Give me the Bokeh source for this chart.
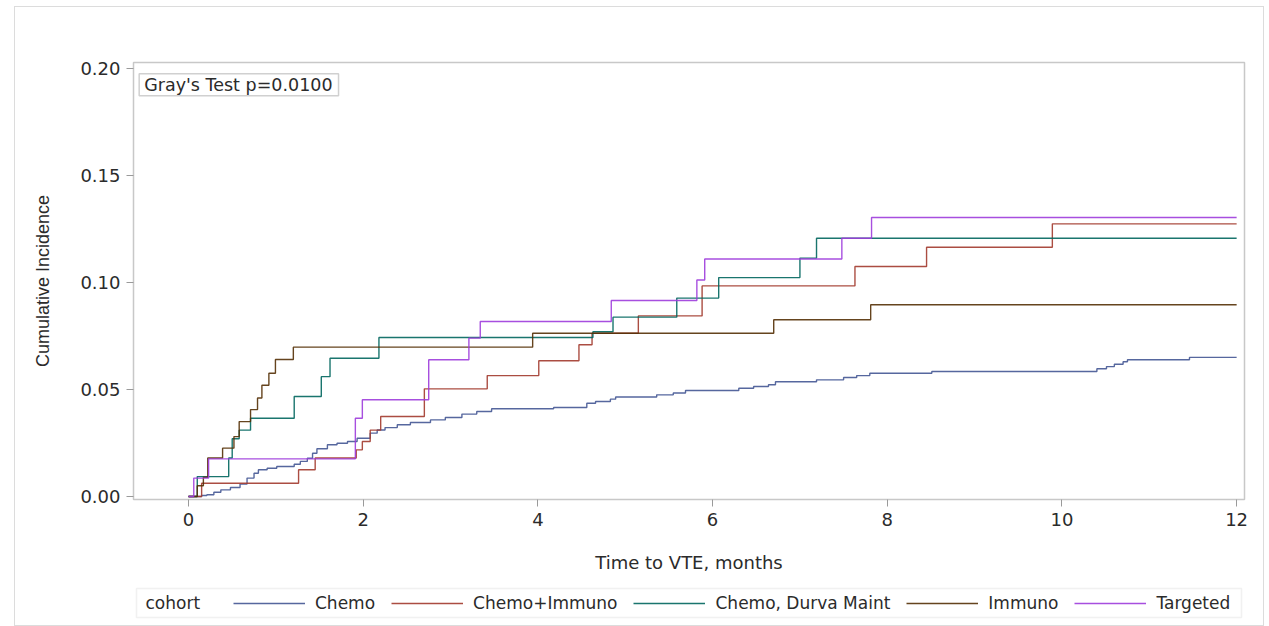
from bokeh.plotting import figure
from bokeh.layouts import column
from bokeh.models import Legend, LegendItem, Label, Range1d, FixedTicker, NumeralTickFormatter, BoxAnnotation
from bokeh.embed import file_html
from bokeh.resources import INLINE

# ---- data ----
cohorts = ["Chemo", "Chemo+Immuno", "Chemo, Durva Maint", "Immuno", "Targeted"]
colors = ["#445694", "#A23A2E", "#01665E", "#543005", "#9D3CDB"]

chemo_t = [0.0, 0.15, 0.21, 0.29, 0.37, 0.48, 0.59, 0.67, 0.75, 0.80, 0.90, 1.01, 1.21, 1.28, 1.36,
           1.42, 1.47, 1.59, 1.70, 1.82, 1.93, 2.08, 2.16, 2.25, 2.39, 2.54, 2.77, 2.94, 3.13, 3.30,
           3.47, 4.18, 4.56, 4.66, 4.83, 4.89, 5.36, 5.55, 5.69, 6.30, 6.47, 6.64, 6.72, 7.19, 7.50,
           7.65, 7.80, 8.51, 10.40, 10.51, 10.60, 10.70, 10.75, 11.46, 12.0]
chemo_ci = [0.0, 0.0005, 0.0008, 0.002, 0.0031, 0.0042, 0.0058, 0.0086, 0.0109, 0.0125, 0.0132, 0.014,
            0.0151, 0.0164, 0.0179, 0.0202, 0.0223, 0.0242, 0.0249, 0.0257, 0.0272, 0.0296, 0.0311,
            0.0322, 0.0335, 0.0346, 0.0358, 0.0369, 0.0385, 0.0397, 0.041, 0.0416, 0.0436, 0.0444,
            0.0455, 0.0465, 0.0475, 0.0484, 0.0495, 0.0506, 0.0514, 0.0522, 0.0536, 0.0545, 0.0556,
            0.0565, 0.0576, 0.0584, 0.0597, 0.0607, 0.0618, 0.063, 0.0639, 0.065, 0.065]

chemo_immuno_t = [0.0, 0.15, 1.26, 1.45, 1.92, 1.99, 2.08, 2.20, 2.70, 3.42, 4.01, 4.47, 4.62, 5.15,
                  5.88, 7.63, 8.45, 9.89, 12.0]
chemo_immuno_ci = [0.0, 0.0062, 0.0125, 0.018, 0.0218, 0.0257, 0.031, 0.0374, 0.0503, 0.0565, 0.0634,
                   0.0709, 0.0763, 0.0844, 0.0984, 0.1075, 0.1165, 0.1274, 0.1274]

durva_t = [0.0, 0.10, 0.46, 0.50, 0.58, 0.71, 1.21, 1.52, 1.62, 2.18, 4.63, 4.86, 5.59, 6.07, 7.00,
           7.19, 12.0]
durva_ci = [0.0, 0.0093, 0.018, 0.027, 0.031, 0.0366, 0.0467, 0.056, 0.0646, 0.0743, 0.077, 0.0838,
            0.0927, 0.1023, 0.1114, 0.1207, 0.1207]

immuno_t = [0.0, 0.10, 0.17, 0.22, 0.39, 0.52, 0.58, 0.71, 0.79, 0.84, 0.92, 0.995, 1.20, 3.94, 6.70,
            7.81, 12.0]
immuno_ci = [0.0, 0.005, 0.009, 0.018, 0.0226, 0.028, 0.035, 0.0406, 0.046, 0.052, 0.0576, 0.064,
             0.0698, 0.0763, 0.0826, 0.0896, 0.0896]

targeted_t = [0.0, 0.06, 0.23, 1.91, 1.99, 2.75, 3.21, 3.34, 4.84, 5.82, 5.91, 7.48, 7.82, 12.0]
targeted_ci = [0.0, 0.0086, 0.0176, 0.0366, 0.0452, 0.0639, 0.074, 0.0818, 0.0916, 0.1012, 0.111,
               0.1207, 0.1304, 0.1304]

x_ticks = [0, 2, 4, 6, 8, 10, 12]
y_ticks = [0.0, 0.05, 0.10, 0.15, 0.20]
annotation_text = "Gray's Test p=0.0100"
legend_title = "cohort"

series = [(chemo_t, chemo_ci), (chemo_immuno_t, chemo_immuno_ci), (durva_t, durva_ci),
          (immuno_t, immuno_ci), (targeted_t, targeted_ci)]

FONT = "DejaVu Sans"
TXT = "#2b2b2b"
GRID = "#c8c8c8"
BORDER = "#d0d0d0"

# ---------------- main plot ----------------
p = figure(width=1248, height=575, x_range=Range1d(-0.63, 12.09), y_range=Range1d(-0.0014, 0.2028),
           output_backend="svg", toolbar_location=None,
           min_border_left=118, min_border_right=19, min_border_top=55, min_border_bottom=83)

p.xgrid.visible = False
p.ygrid.visible = False
p.outline_line_color = GRID
p.outline_line_width = 1.5
p.background_fill_color = "white"
p.border_fill_color = "white"

for ax in (p.xaxis[0], p.yaxis[0]):
    ax.axis_line_color = GRID
    ax.major_tick_line_color = "#9a9a9a"
    ax.major_tick_out = 7
    ax.major_tick_in = 0
    ax.minor_tick_line_color = None
    ax.major_label_text_font = FONT
    ax.major_label_text_font_size = "18px"
    ax.major_label_text_color = TXT
    ax.axis_label_text_font_style = "normal"
    ax.axis_label_text_color = TXT

p.xaxis.ticker = FixedTicker(ticks=x_ticks)
p.yaxis.ticker = FixedTicker(ticks=y_ticks)
p.yaxis.formatter = NumeralTickFormatter(format="0.00")
p.xaxis.axis_label = "Time to VTE, months"
p.yaxis.axis_label = "Cumulative Incidence"
p.xaxis.axis_label_text_font = FONT
p.xaxis.axis_label_text_font_size = "18px"
p.yaxis.axis_label_text_font = "Liberation Sans"
p.yaxis.axis_label_text_font_size = "18px"
p.xaxis.major_label_standoff = 6
p.yaxis.major_label_standoff = 6
p.xaxis.axis_label_standoff = 23
p.yaxis.axis_label_standoff = 24

for col, (t, v) in zip(colors, series):
    p.step(t, v, mode="after", line_color=col, line_width=1.4, line_alpha=0.9)

lbl = Label(x=-0.565, y=0.1975, text=annotation_text, text_font=FONT, text_font_size="17.5px",
            text_color=TXT, text_align="left", text_baseline="top",
            padding=dict(left=5, right=6, top=1, bottom=1),
            border_line_color=BORDER, border_line_width=1.5, background_fill_color="white")
p.add_layout(lbl)

# ---------------- legend strip (frame aligned with the plot frame; units = pixels) ----------------
lg = figure(width=1248, height=43, x_range=Range1d(133, 1244), y_range=Range1d(0, 43),
            x_axis_type=None, y_axis_type=None,
            min_border_left=118, min_border_right=19, min_border_top=0, min_border_bottom=0,
            output_backend="svg", toolbar_location=None)
lg.outline_line_color = None
lg.background_fill_color = "white"
lg.border_fill_color = "white"

lg.add_layout(BoxAnnotation(left=136, right=1241, bottom=8, top=37, fill_color="white", fill_alpha=1,
                            line_color=BORDER, line_width=1.5))
lg.add_layout(Label(x=145, y=22.5, text=legend_title, text_font=FONT, text_font_size="17px",
                    text_color=TXT, text_align="left", text_baseline="middle"))

nan = float("nan")
items = []
for name, col in zip(cohorts, colors):
    r = lg.line([nan], [nan], line_color=col, line_width=1.4, line_alpha=0.9)
    items.append(LegendItem(label=name, renderers=[r]))

legend = Legend(items=items, orientation="horizontal", location=(100, 12),
                label_text_font=FONT, label_text_font_size="17px", label_text_color=TXT,
                glyph_width=72, glyph_height=18, label_height=18, label_standoff=10, spacing=16,
                padding=0, margin=0, border_line_color=None, background_fill_alpha=0)
lg.add_layout(legend, "center")

layout = column(p, lg, margin=(7, 0, 0, 15), spacing=0,
                styles={"outline": "1px solid #dcdcdc"})

open("out.html", "w").write(file_html(layout, INLINE))
